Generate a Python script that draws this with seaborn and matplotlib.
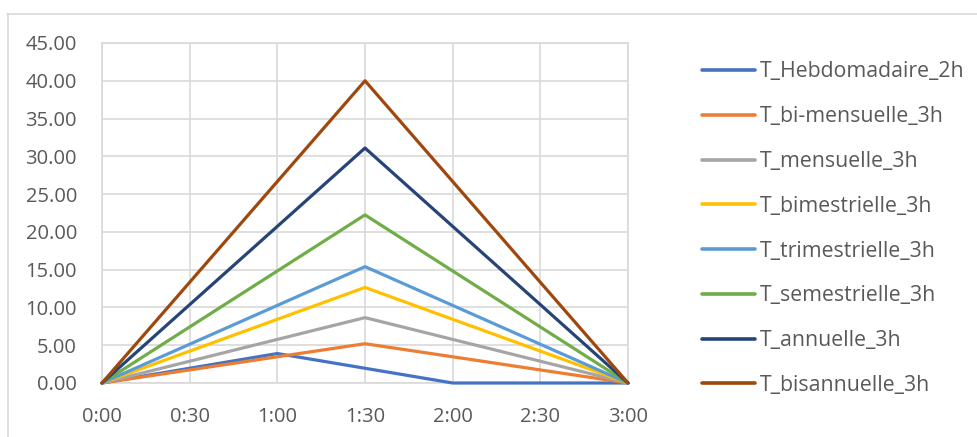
import matplotlib
matplotlib.use("Agg")
import matplotlib.pyplot as plt
from matplotlib.lines import Line2D
import seaborn as sns
import pandas as pd

times = ["0:00", "0:30", "1:00", "1:30", "2:00", "2:30", "3:00"]
minutes = [0, 30, 60, 90, 120, 150, 180]

series_names = ["T_Hebdomadaire_2h", "T_bi-mensuelle_3h", "T_mensuelle_3h",
                "T_bimestrielle_3h", "T_trimestrielle_3h", "T_semestrielle_3h",
                "T_annuelle_3h", "T_bisannuelle_3h"]

hebdomadaire_2h = [0.00, 1.95, 3.90, 1.95, 0.00, 0.00, 0.00]
bi_mensuelle_3h = [0.00, 1.73, 3.47, 5.20, 3.47, 1.73, 0.00]
mensuelle_3h = [0.00, 2.88, 5.77, 8.65, 5.77, 2.88, 0.00]
bimestrielle_3h = [0.00, 4.22, 8.43, 12.65, 8.43, 4.22, 0.00]
trimestrielle_3h = [0.00, 5.13, 10.27, 15.40, 10.27, 5.13, 0.00]
semestrielle_3h = [0.00, 7.42, 14.83, 22.25, 14.83, 7.42, 0.00]
annuelle_3h = [0.00, 10.37, 20.73, 31.10, 20.73, 10.37, 0.00]
bisannuelle_3h = [0.00, 13.33, 26.67, 40.00, 26.67, 13.33, 0.00]

values = [hebdomadaire_2h, bi_mensuelle_3h, mensuelle_3h, bimestrielle_3h,
          trimestrielle_3h, semestrielle_3h, annuelle_3h, bisannuelle_3h]

colors = ["#4472C4", "#ED7D31", "#A5A5A5", "#FFC000",
          "#5B9BD5", "#70AD47", "#264478", "#9E480E"]

rows = []
for name, vals in zip(series_names, values):
    for m, v in zip(minutes, vals):
        rows.append({"t": m, "v": v, "serie": name})
df = pd.DataFrame(rows)

sns.set_theme(style="white")
plt.rcParams["font.family"] = ["Open Sans", "DejaVu Sans"]

fig = plt.figure(figsize=(9.78, 4.37), dpi=100)
ax = fig.add_axes([102 / 978, 1 - 383 / 437, 526 / 978, 340 / 437])

sns.lineplot(data=df, x="t", y="v", hue="serie", hue_order=series_names,
             palette=colors, linewidth=2.3, ax=ax, legend=False, sort=False)
for ln in ax.get_lines():
    ln.set_clip_on(False)

ax.set_xlim(0, 180)
ax.set_ylim(0, 45)
ax.set_xticks(minutes)
ax.set_xticklabels(times)
ax.set_yticks(range(0, 46, 5))
ax.set_yticklabels([f"{y:.2f}" for y in range(0, 46, 5)])
ax.set_xlabel("")
ax.set_ylabel("")
ax.grid(True, color="#D9D9D9", linewidth=1.2)
ax.set_axisbelow(True)
for s in ax.spines.values():
    s.set_color("#D9D9D9")
    s.set_linewidth(1.2)
    s.set_zorder(0.5)
ax.tick_params(axis="both", colors="#595959", labelsize=14.5, length=0)
ax.tick_params(axis="x", pad=17)
ax.tick_params(axis="y", pad=18)

fs = 15.3
fpx = fs * 100 / 72
handles = [Line2D([0], [0], color=c, linewidth=2.6) for c in colors]
leg = fig.legend(handles, series_names, loc="upper left",
                 bbox_to_anchor=(693.5 / 978, 1 - 53 / 437), frameon=False,
                 fontsize=fs, labelspacing=(45 - fpx) / fpx,
                 handlelength=53 / fpx, handletextpad=5 / fpx,
                 borderaxespad=0)
for t in leg.get_texts():
    t.set_color("#595959")

fig.add_artist(Line2D([0.0072, 1.0], [1 - 13.5 / 437, 1 - 13.5 / 437],
                      transform=fig.transFigure, color="#D9D9D9", linewidth=1.2))
fig.add_artist(Line2D([0.0077, 0.0077], [0.0, 1 - 13.5 / 437],
                      transform=fig.transFigure, color="#D9D9D9", linewidth=1.2))

fig.savefig("out.png", dpi=100, facecolor="white")
